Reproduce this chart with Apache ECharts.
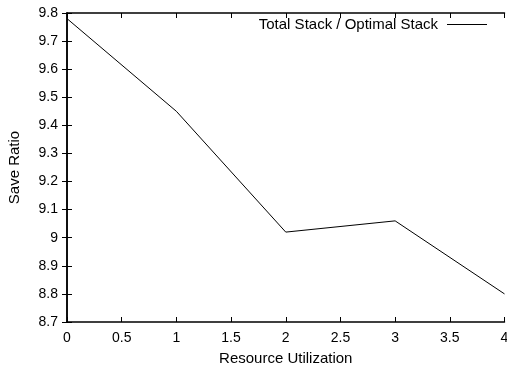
<!DOCTYPE html>
<html><head><meta charset="utf-8">
<script src="https://cdn.jsdelivr.net/npm/echarts@6/dist/echarts.min.js"></script>
<style>html,body{margin:0;padding:0;background:#fff}#c{width:507px;height:369px}</style>
</head><body><div id="c"></div>
<script>
const xValues = [0, 1, 2, 3, 4];
const saveRatio = [9.78, 9.45, 9.02, 9.06, 8.80];
const seriesName = 'Total Stack / Optimal Stack';
const xTitle = 'Resource Utilization';
const yTitle = 'Save Ratio';

const fnt = '"Liberation Sans", Arial, sans-serif';
const fs = 14;
const fsT = 15;
const fmt = v => { const s = (+v).toFixed(1); return s.endsWith('.0') ? s.slice(0, -2) : s; };
const axisLine = {show: true, lineStyle: {color: '#000', width: 1.5}};
const tick = {show: true, inside: true, length: 5, lineStyle: {color: '#000', width: 1}};

const chart = echarts.init(document.getElementById('c'), null, {renderer: 'canvas'});
chart.setOption({
  animation: false,
  backgroundColor: '#fff',
  grid: {left: 67, top: 13, right: 2.5, bottom: 47, containLabel: false, outerBoundsMode: 'none'},
  legend: {
    show: true, right: 15, top: 12, align: 'right', padding: 5,
    itemWidth: 40, itemHeight: 10, itemGap: 10,
    icon: 'path://M0,5L40,5L40,6L0,6Z',
    textStyle: {fontFamily: fnt, fontSize: fsT, color: '#000', padding: [0, 4, 0, 0]},
    data: [{name: seriesName, itemStyle: {color: '#000'}}]
  },
  xAxis: [{
    type: 'value', min: 0, max: 4, interval: 0.5,
    name: xTitle, nameLocation: 'middle', nameGap: 29,
    nameTextStyle: {fontFamily: fnt, fontSize: fsT, color: '#000'},
    axisLine, axisTick: tick, splitLine: {show: false},
    axisLabel: {fontFamily: fnt, fontSize: fs, color: '#000', margin: 9, formatter: fmt}
  }, {
    type: 'value', position: 'top', min: 0, max: 4, interval: 0.5,
    axisLine, axisTick: tick, splitLine: {show: false}, axisLabel: {show: false}
  }],
  yAxis: [{
    type: 'value', min: 8.7, max: 9.8, interval: 0.1,
    name: yTitle, nameLocation: 'middle', nameGap: 45, nameRotate: 90,
    nameTextStyle: {fontFamily: fnt, fontSize: fsT, color: '#000'},
    axisLine, axisTick: tick, splitLine: {show: false},
    axisLabel: {fontFamily: fnt, fontSize: fs, color: '#000', margin: 9, formatter: fmt}
  }, {
    type: 'value', position: 'right', min: 8.7, max: 9.8, interval: 0.1,
    axisLine, axisTick: tick, splitLine: {show: false}, axisLabel: {show: false}
  }],
  series: [{
    name: seriesName, type: 'line',
    data: xValues.map((x, i) => [x, saveRatio[i]]),
    symbol: 'none', lineStyle: {color: '#000', width: 1}, itemStyle: {color: '#000'}
  }]
});
</script></body></html>
